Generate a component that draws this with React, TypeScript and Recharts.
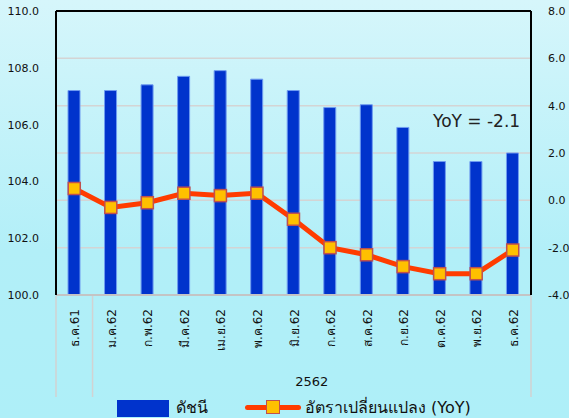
import React from 'react';
import { ComposedChart, Bar, Line, XAxis, YAxis, CartesianGrid, ReferenceLine } from 'recharts';

const months = ['ธ.ค.61', 'ม.ค.62', 'ก.พ.62', 'มี.ค.62', 'เม.ย.62', 'พ.ค.62', 'มิ.ย.62', 'ก.ค.62', 'ส.ค.62', 'ก.ย.62', 'ต.ค.62', 'พ.ย.62', 'ธ.ค.62'];
const indexValues = [107.2, 107.2, 107.4, 107.7, 107.9, 107.6, 107.2, 106.6, 106.7, 105.9, 104.7, 104.7, 105.0];
const yoyValues = [0.5, -0.3, -0.1, 0.3, 0.2, 0.3, -0.8, -2.0, -2.3, -2.8, -3.1, -3.1, -2.1];
const leftTicks = [100, 102, 104, 106, 108, 110];
const rightTicks = [-4, -2, 0, 2, 4, 6, 8];
const yearLabel = '2562';
const seriesNames = ['ดัชนี', 'อัตราเปลี่ยนแปลง (YoY)'];
const noteText = 'YoY = -2.1';

const data = months.map((m, i) => ({ month: m, index: indexValues[i], yoy: yoyValues[i] }));

const FONT = "Tahoma, 'DejaVu Sans', 'Noto Sans', sans-serif";
const HALF = 475 / 13 / 2;

const XTick = (props: any) => {
  const { x, payload, index } = props;
  const last = months.length - 1;
  return (
    <g>
      <text
        transform={`translate(${x + 1},309) rotate(-90)`}
        textAnchor="end"
        dominantBaseline="central"
        fontSize={12}
        fontFamily={FONT}
        fill="#111"
      >
        {payload.value}
      </text>
      {(index === 0 || index === 1) && (
        <line x1={x - HALF} x2={x - HALF} y1={296} y2={397} stroke="#d2d2d2" strokeWidth={1.5} />
      )}
      {index === last && (
        <line x1={x + HALF} x2={x + HALF} y1={296} y2={397} stroke="#d2d2d2" strokeWidth={1.5} />
      )}
      {index === 6 && (
        <text x={x + HALF} y={381} textAnchor="middle" dominantBaseline="central" fontSize={13} fontFamily={FONT} fill="#111">
          {yearLabel}
        </text>
      )}
    </g>
  );
};

const SquareDot = (props: any) => {
  const { cx, cy } = props;
  if (cx == null || cy == null) return null;
  return <rect x={cx - 6} y={cy - 6} width={12} height={12} fill="#ffc000" stroke="#c0504d" strokeWidth={1.5} />;
};

export default function App() {
  return (
    <div
      style={{
        position: 'absolute',
        left: 0,
        top: 0,
        width: 569,
        height: 418,
        background: 'linear-gradient(to bottom, #d6f6fb 0%, #b2eff8 60%, #aeeff8 100%)',
        fontFamily: FONT,
        overflow: 'hidden',
      }}
    >
      <ComposedChart width={569} height={418} data={data} margin={{ top: 11, right: 0, left: 0, bottom: 0 }}>
        <CartesianGrid yAxisId="right" vertical={false} stroke="#d4d4d4" strokeWidth={1.5} />
        <XAxis
          dataKey="month"
          height={123}
          interval={0}
          tick={<XTick />}
          tickLine={false}
          axisLine={{ stroke: '#c4c4c4', strokeWidth: 2 }}
        />
        <YAxis
          yAxisId="left"
          orientation="left"
          width={56}
          domain={[100, 110]}
          ticks={leftTicks}
          tickFormatter={(v: number) => v.toFixed(1)}
          tickLine={false}
          tickSize={0}
          tickMargin={17}
          axisLine={{ stroke: '#000', strokeWidth: 2 }}
          tick={{ fontSize: 11, fill: '#111', fontFamily: FONT }}
          allowDataOverflow
        />
        <YAxis
          yAxisId="right"
          orientation="right"
          width={38}
          domain={[-4, 8]}
          ticks={rightTicks}
          tickFormatter={(v: number) => v.toFixed(1)}
          tickLine={false}
          tickSize={0}
          tickMargin={17}
          axisLine={{ stroke: '#000', strokeWidth: 2 }}
          tick={{ fontSize: 11, fill: '#111', fontFamily: FONT, textAnchor: 'start' }}
        />
        <ReferenceLine yAxisId="left" y={110} stroke="#000" strokeWidth={2} />
        <Bar yAxisId="left" dataKey="index" fill="#0033cc" stroke="#6f9cf0" strokeWidth={1} barSize={12} isAnimationActive={false} />
        <Line
          yAxisId="right"
          dataKey="yoy"
          stroke="#ff3c00"
          strokeWidth={5}
          dot={<SquareDot />}
          activeDot={false}
          isAnimationActive={false}
        />
      </ComposedChart>
      <div style={{ position: 'absolute', left: 433, top: 111, fontSize: 17, color: '#222', whiteSpace: 'nowrap' }}>{noteText}</div>
      <div style={{ position: 'absolute', left: 117, top: 400, width: 52, height: 17, background: '#0033cc' }} />
      <div style={{ position: 'absolute', left: 176, top: 395, fontSize: 16, color: '#111', whiteSpace: 'nowrap' }}>{seriesNames[0]}</div>
      <div style={{ position: 'absolute', left: 245, top: 405, width: 56, height: 5, borderRadius: 3, background: '#ff3c00' }} />
      <div style={{ position: 'absolute', left: 266, top: 400, width: 12, height: 12, background: '#ffc000', border: '1.5px solid #c0504d' }} />
      <div style={{ position: 'absolute', left: 305, top: 395, fontSize: 16, color: '#111', whiteSpace: 'nowrap' }}>{seriesNames[1]}</div>
    </div>
  );
}
